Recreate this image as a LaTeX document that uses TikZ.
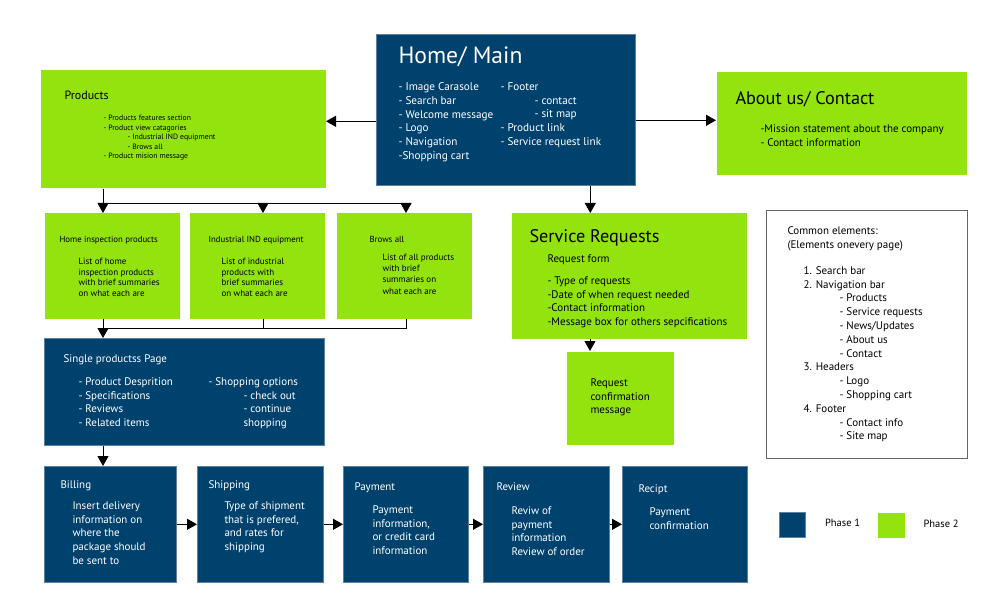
\documentclass[tikz,border=0pt]{standalone}
\usepackage{fontspec}
\setmainfont{PT Sans}
\usetikzlibrary{positioning,arrows.meta}
\definecolor{phaseone}{HTML}{00426E}
\definecolor{phasetwo}{HTML}{93E30F}
\definecolor{rim}{HTML}{5B82A3}

\begin{document}
\begin{tikzpicture}[%
    x=1pt,
    y=-1pt,
    >={Triangle[length=10pt,width=11pt]},
    line width=1pt,
    darkbox/.style={%
      anchor=north west,
      fill=phaseone,
      draw=rim,
      line width=0.6pt,
      inner sep=0
    },
    greenbox/.style={%
      anchor=north west,
      fill=phasetwo,
      inner sep=0
    },
    wtxt/.style={%
      anchor=north west,
      inner sep=0,
      align=left,
      text=white,
      font=\fontsize{11}{13.8}\selectfont
    },
    btxt/.style={wtxt, text=black},
    bigtitle/.style={font=\fontsize{18.2}{20}\selectfont}
  ]
    \useasboundingbox (0,0) rectangle (1008,612);

    % boxes
    \node[darkbox, minimum width=259, minimum height=151] (home) at (376,34) {};
    \node[greenbox, minimum width=285, minimum height=118] (products) at (40,70) {};
    \node[greenbox, minimum width=250, minimum height=103] (about) at (716,72) {};
    \node[greenbox, minimum width=135, minimum height=105] (homeinsp) at (44,213) {};
    \node[greenbox, minimum width=135, minimum height=105] (industrial) at (189,213) {};
    \node[greenbox, minimum width=135, minimum height=105] (browse) at (336,213) {};
    \node[greenbox, minimum width=235, minimum height=125] (service) at (511,213) {};
    \node[greenbox, minimum width=107, minimum height=93] (confirm) at (566,351) {};
    \node[anchor=north west, draw=black!60, fill=white, minimum width=201, minimum height=248] (common) at (766,210) {};
    \node[darkbox, minimum width=280, minimum height=107] (single) at (44,338) {};
    \node[darkbox, minimum width=132, minimum height=116] (billing) at (44,466) {};
    \node[darkbox, minimum width=126, minimum height=116] (shipping) at (197,466) {};
    \node[darkbox, minimum width=125, minimum height=116] (payment) at (343,466) {};
    \node[darkbox, minimum width=126, minimum height=116] (review) at (483,466) {};
    \node[darkbox, minimum width=125, minimum height=116] (recipt) at (622,466) {};

    % texts
    \node[wtxt, font=\fontsize{23.6}{26}\selectfont] (hometitle) at (398,46) {Home/ Main};
    \node[wtxt, font=\fontsize{11.2}{13.8}\selectfont] (homeleft) at (398,82) {- Image Carasole\\- Search bar\\- Welcome message\\- Logo\\- Navigation\\-Shopping cart};
    \node[wtxt, font=\fontsize{11.2}{13.8}\selectfont] (homeright) at (500,82) {- Footer\\\hspace*{34pt}- contact\\\hspace*{34pt}- sit map\\- Product link\\- Service request link};

    \node[btxt, font=\fontsize{12}{14}\selectfont] (prodtitle) at (64,91) {Products};
    \node[btxt, font=\fontsize{7.7}{9.5}\selectfont] (prodlist) at (103,115) {- Products features section\\- Product view catagories\\\hspace*{24pt}- Industrial IND equipment\\\hspace*{24pt}- Brows all\\- Product mision message};

    \node[btxt, font=\fontsize{8.8}{10}\selectfont] (homeinsptitle) at (59,235.5) {Home inspection products};
    \node[btxt, font=\fontsize{9}{10.7}\selectfont] (homeinsplist) at (78,257.5) {List of home\\inspection products\\with brief summaries\\on what each are};
    \node[btxt, font=\fontsize{8.8}{10}\selectfont] (industrialtitle) at (208,235.5) {Industrial IND equipment};
    \node[btxt, font=\fontsize{9}{10.7}\selectfont] (industriallist) at (221,257.5) {List of industrial\\products with\\brief summaries\\on what each are};
    \node[btxt, font=\fontsize{8.8}{10}\selectfont] (browsetitle) at (369,235.5) {Brows all};
    \node[btxt, font=\fontsize{9}{11.3}\selectfont] (browselist) at (382,253.5) {List of all products\\with brief\\summaries on\\what each are};

    \node[btxt, bigtitle] (servicetitle) at (529,229) {Service Requests};
    \node[btxt] (serviceform) at (547,254) {Request form};
    \node[btxt] (servicelist) at (547,276) {- Type of requests\\-Date of when request needed\\-Contact information\\-Message box for others sepcifications};
    \node[btxt] (confirmtext) at (590,378) {Request\\confirmation\\message};

    \node[btxt, bigtitle] (abouttitle) at (735,91.5) {About us/ Contact};
    \node[btxt] (aboutlist) at (760,124) {-Mission statement about the company\\- Contact information};

    \node[btxt] (commontitle) at (787,226) {Common elements:\\(Elements onevery page)};
    \node[btxt] (commonlist) at (803,266) {1. Search bar\\2. Navigation bar\\\hspace*{36pt}- Products\\\hspace*{36pt}- Service requests\\\hspace*{36pt}- News/Updates\\\hspace*{36pt}- About us\\\hspace*{36pt}- Contact\\3. Headers\\\hspace*{36pt}- Logo\\\hspace*{36pt}- Shopping cart\\4. Footer\\\hspace*{36pt}- Contact info\\\hspace*{36pt}- Site map};

    \node[wtxt] (singletitle) at (63,354) {Single productss Page};
    \node[wtxt] (singleleft) at (78,377) {- Product Desprition\\- Specifications\\- Reviews\\- Related items};
    \node[wtxt] (singleright) at (208,377) {- Shopping options\\\hspace*{35pt}- check out\\\hspace*{35pt}- continue\\\hspace*{35pt}shopping};

    \node[wtxt] (billingtitle) at (60,480) {Billing};
    \node[wtxt] (billingtext) at (72,501) {Insert delivery\\information on\\where the\\package should\\be sent to};
    \node[wtxt] (shippingtitle) at (208,480) {Shipping};
    \node[wtxt] (shippingtext) at (224,501) {Type of shipment\\that is prefered,\\and rates for\\shipping};
    \node[wtxt] (paymenttitle) at (354,482) {Payment};
    \node[wtxt] (paymenttext) at (372,505) {Payment\\information,\\or credit card\\information};
    \node[wtxt] (reviewtitle) at (496,482) {Review};
    \node[wtxt] (reviewtext) at (511,506) {Reviw of\\payment\\information\\Review of order};
    \node[wtxt] (recipttitle) at (638,484) {Recipt};
    \node[wtxt] (reciptext) at (649,507) {Payment\\confirmation};

    % legend
    \node[darkbox, minimum width=26, minimum height=25] (p1) at (779,512) {};
    \node[anchor=west, inner sep=0, font=\fontsize{10.5}{12}\selectfont, right=19pt of p1, yshift=1.5pt] (p1text) {Phase 1};
    \node[greenbox, minimum width=27, minimum height=25] (p2) at (877,512) {};
    \node[anchor=west, inner sep=0, font=\fontsize{10.5}{12}\selectfont, right=18pt of p2, yshift=1.5pt] (p2text) {Phase 2};

    % bus points
    \coordinate (topleft) at (103,204);
    \coordinate (topmid) at (263,204);
    \coordinate (topright) at (406,204);
    \coordinate (lowleft) at (103,328);
    \coordinate (lowright) at (406,328);

    % connectors
    \draw[->] ([yshift=-11.5pt]home.west) -- ([yshift=-11.5pt]home.west -| products.east);
    \draw[->] ([yshift=-10.5pt]home.east) -- ([yshift=-10.5pt]home.east -| about.west);
    \draw[->] ([xshift=84.5pt]home.south) -- ([xshift=84.5pt]home.south |- service.north);
    \draw (products.south -| topleft) -- (topleft) -- (topright);
    \draw[->] (topleft) -- (topleft |- homeinsp.north);
    \draw[->] (topmid) -- (topmid |- industrial.north);
    \draw[->] (topright) -- (topright |- browse.north);
    \draw (homeinsp.south -| topmid) -- (topmid |- lowleft);
    \draw (browse.south -| lowright) -- (lowright) -- (lowleft);
    \draw[->] (homeinsp.south -| lowleft) -- (single.north -| lowleft);
    \draw[->] (single.south -| lowleft) -- (billing.north -| lowleft);
    \draw[->] (service.south -| confirmtext.west) -- (confirm.north -| confirmtext.west);
    \draw[->] (billing) -- (shipping);
    \draw[->] (shipping) -- (payment);
    \draw[->] (payment) -- (review);
    \draw[->] (review) -- (recipt);
  \end{tikzpicture}
\end{document}
